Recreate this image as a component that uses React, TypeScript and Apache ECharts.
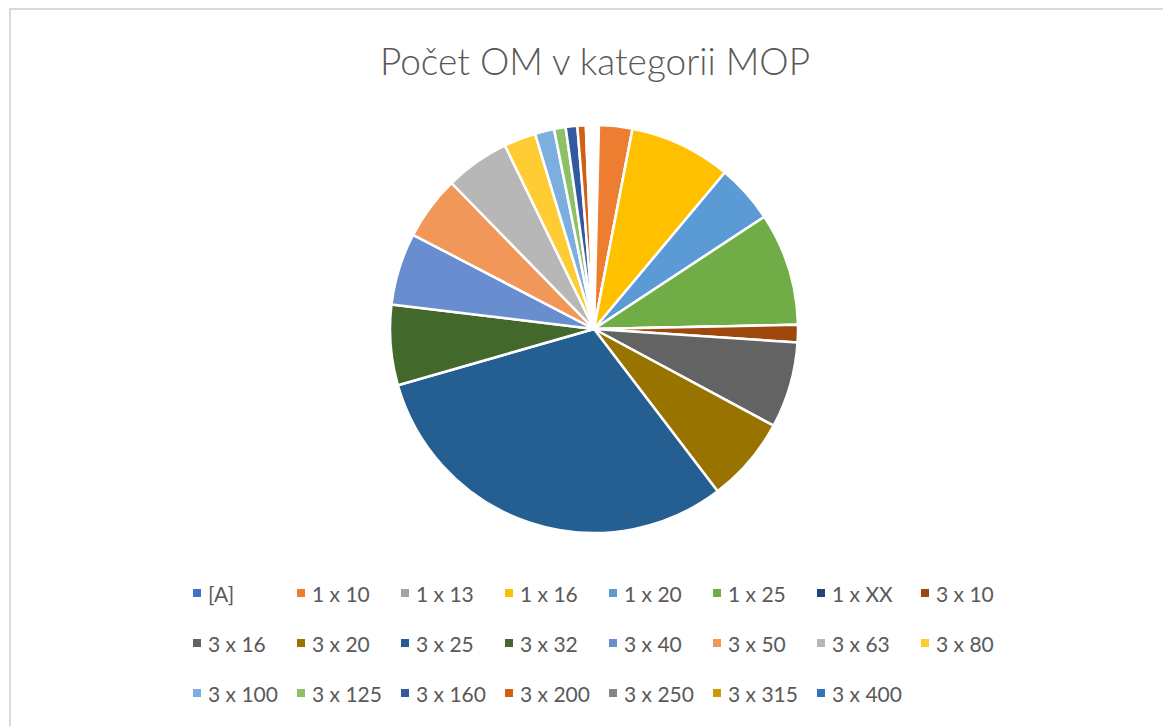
import React, { useEffect, useRef } from "react";
import * as echarts from "echarts";

const titleText = "Počet OM v kategorii MOP";

const categories = [
  "[A]", "1 x 10", "1 x 13", "1 x 16", "1 x 20", "1 x 25", "1 x XX", "3 x 10",
  "3 x 16", "3 x 20", "3 x 25", "3 x 32", "3 x 40", "3 x 50", "3 x 63", "3 x 80",
  "3 x 100", "3 x 125", "3 x 160", "3 x 200", "3 x 250", "3 x 315", "3 x 400",
];

const values = [
  1.4, 9.5, 0, 29, 16.7, 32.2, 0, 5,
  24.5, 24.4, 111.3, 22.9, 20.6, 18.2, 18.4, 9.1,
  5.5, 3.3, 3.3, 2.4, 0.8, 0.8, 0.7,
];

const colors = [
  "#4472C4", "#ED7D31", "#A5A5A5", "#FFC000", "#5B9BD5", "#70AD47", "#264478", "#9E480E",
  "#636363", "#997300", "#255E91", "#43682B", "#698ED0", "#F1975A", "#B7B7B7", "#FFCD33",
  "#7CAFDD", "#8CC168", "#335AA1", "#D26012", "#848484", "#CC9A00", "#2E75B6",
];

// slices that appear blank (white) in the picture
const blankSlices = ["[A]", "3 x 250", "3 x 315", "3 x 400"];

const legendRows = [
  categories.slice(0, 8),
  categories.slice(8, 16),
  categories.slice(16, 23),
];

export default function App() {
  const ref = useRef<HTMLDivElement>(null);
  useEffect(() => {
    if (!ref.current) return;
    const chart = echarts.init(ref.current, null, { renderer: "svg" });
    const data = categories.map((name, i) => ({
      name,
      value: values[i],
      itemStyle: { color: blankSlices.includes(name) ? "#FFFFFF" : colors[i] },
    }));
    const rowTops = [576, 626, 676];
    const legends = legendRows.map((row, r) => ({
      show: true,
      orient: "horizontal",
      left: 188,
      top: rowTops[r],
      itemWidth: 8,
      itemHeight: 8,
      itemGap: 10,
      icon: "rect",
      selectedMode: false,
      data: row.map((name) => ({
        name,
        itemStyle: { color: colors[categories.indexOf(name)], borderWidth: 0 },
      })),
      textStyle: {
        color: "#595959",
        fontSize: 21,
        fontFamily: "Lato",
        width: 79,
        lineHeight: 24,
        padding: [0, 0, 0, 2],
      },
    }));
    chart.setOption({
      animation: false,
      backgroundColor: "#FFFFFF",
      title: {
        text: titleText,
        left: 590,
        textAlign: "center",
        top: 37,
        textStyle: {
          color: "#595959",
          fontSize: 37,
          fontWeight: 300,
          fontFamily: "Lato",
        },
      },
      graphic: [
        {
          type: "rect",
          shape: { x: 10, y: 9, width: 1300, height: 900 },
          style: { fill: "none", stroke: "#D9D9D9", lineWidth: 2 },
          silent: true,
        },
      ],
      legend: legends,
      series: [
        {
          type: "pie",
          center: [594, 329],
          radius: [0, 204],
          startAngle: 90,
          clockwise: true,
          avoidLabelOverlap: false,
          label: { show: false },
          labelLine: { show: false },
          emphasis: { disabled: true },
          itemStyle: { borderColor: "#FFFFFF", borderWidth: 2.5 },
          data,
        },
      ],
    });
    return () => chart.dispose();
  }, []);
  return (
    <div
      ref={ref}
      style={{ position: "absolute", left: 0, top: 0, width: 1163, height: 726 }}
    />
  );
}
